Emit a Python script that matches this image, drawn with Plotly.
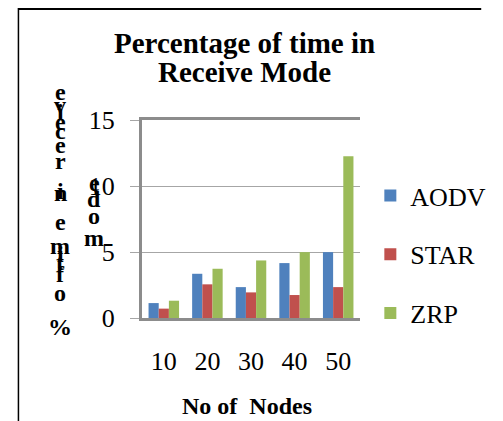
import plotly.graph_objects as go

# ---- data ----
nodes = ["10", "20", "30", "40", "50"]
aodv = [1.13, 3.35, 2.34, 4.16, 4.99]
star = [0.71, 2.55, 1.94, 1.74, 2.34]
zrp = [1.31, 3.73, 4.36, 4.99, 12.25]
series_names = ["AODV", "STAR", "ZRP"]
colors = ["#4F81BD", "#C0504D", "#9BBB59"]
y_ticks = [0, 5, 10, 15]

OFF = 8  # page body margin
W, H = 503 - OFF, 421 - OFF
# plot area in screen pixels
SL, SR, ST, SB = 142, 374, 120, 318
L, R, T, B = SL - OFF, SR - OFF, ST - OFF, SB - OFF


def px2x(sx):
    return (sx - SL) / (SR - SL)


def px2y(sy):
    return (SB - sy) / (SB - ST)


FONT = "Liberation Serif"

fig = go.Figure()
for name, vals, col in zip(series_names, [aodv, star, zrp], colors):
    fig.add_trace(go.Bar(x=nodes, y=vals, name=name, marker_color=col,
                         marker_line_width=0, legendgroup=name))

# stacked y-axis title characters (as in the original)
col1 = [("e", 92), ("v", 105), ("i", 112), ("e", 122), ("c", 131), ("e", 145), ("r", 161),
        ("n", 193), ("i", 191), ("e", 222), ("m", 246), ("i", 254), ("t", 262),
        ("f", 274), ("o", 293), ("%", 327)]
col2 = [("e", 183), ("d", 199), ("o", 216), ("m", 238)]
annotations = []
for xx, col in ((55, col1), (91, col2)):
    for ch, yy in col:
        annotations.append(dict(text=ch, x=px2x(xx), y=px2y(yy), xref="paper", yref="paper",
                                showarrow=False, xanchor="center", yanchor="middle",
                                font=dict(family=FONT, size=24, color="black", weight="bold")))
# x axis title
annotations.append(dict(text="No of  Nodes", x=px2x(254), y=px2y(406), xref="paper", yref="paper",
                        showarrow=False, xanchor="center", yanchor="middle",
                        font=dict(family=FONT, size=24, color="black", weight="bold")))
# chart title (two lines)
for txt, yy in (("Percentage of time in", 43), ("Receive Mode", 72)):
    annotations.append(dict(text=txt, x=px2x(251), y=px2y(yy),
                            xref="paper", yref="paper", showarrow=False, xanchor="center",
                            yanchor="middle",
                            font=dict(family=FONT, size=29, color="black", weight="bold")))

shapes = [
    dict(type="line", xref="paper", yref="paper", x0=px2x(10), x1=px2x(503),
         y0=px2y(9), y1=px2y(9), line=dict(color="black", width=2)),
    dict(type="line", xref="paper", yref="paper", x0=px2x(10.5), x1=px2x(10.5),
         y0=px2y(8), y1=px2y(421), line=dict(color="black", width=1.5)),
]

fig.update_layout(
    width=W, height=H,
    margin=dict(l=L, r=W - R, t=T, b=H - B, pad=0),
    paper_bgcolor="white", plot_bgcolor="white",
    barmode="group", bargap=0.3, bargroupgap=0,
    font=dict(family=FONT, color="black"),
    showlegend=True,
    legend=dict(x=px2x(385), y=px2y(172), xanchor="left", yanchor="top",
                xref="paper", yref="paper",
                font=dict(family=FONT, size=26, color="black"),
                tracegroupgap=22, bgcolor="rgba(0,0,0,0)"),
    annotations=annotations,
    shapes=shapes,
)
fig.update_xaxes(showline=True, mirror=True, linecolor="#8c8c8c", linewidth=3,
                 ticks="", showgrid=False, ticklabelstandoff=18,
                 tickfont=dict(family=FONT, size=26, color="black"))
fig.update_yaxes(range=[0, 15], tickvals=y_ticks, showline=True, linecolor="#8c8c8c",
                 linewidth=3, showgrid=True, gridcolor="#a6a6a6", gridwidth=1,
                 zeroline=False, ticks="outside", ticklen=9, tickcolor="#a6a6a6",
                 ticklabelstandoff=10,
                 tickfont=dict(family=FONT, size=26, color="black"))

fig.write_html("out.html")
